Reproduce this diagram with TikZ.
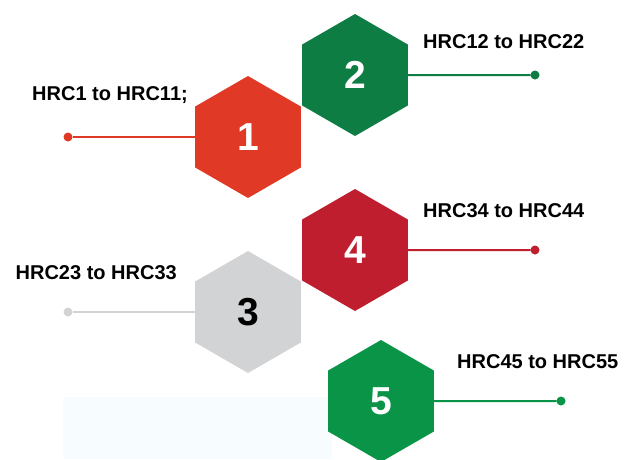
\documentclass[tikz,border=0pt]{standalone}
\usepackage{fontspec}
\setmainfont{Liberation Sans}
\usepackage{tikz}
\usetikzlibrary{shapes.geometric}

\definecolor{hexorange}{HTML}{E03A26}
\definecolor{hexdarkgreen}{HTML}{0E7D43}
\definecolor{hexgrey}{HTML}{D1D3D4}
\definecolor{hexcrimson}{HTML}{BE1E2D}
\definecolor{hexgreen}{HTML}{0A9447}
\definecolor{paleblue}{HTML}{F7FDFF}

\begin{document}
\begin{tikzpicture}[x=1pt,y=-1pt,node distance=180pt,
    hex node/.style={regular polygon,regular polygon sides=6,shape border rotate=30,
      minimum size=122pt,inner sep=0pt,outer sep=0pt,text=white,
      font=\bfseries\fontsize{39}{39}\selectfont},
    dot node/.style={circle,minimum size=9pt,inner sep=0pt,outer sep=0pt},
    label node/.style={inner sep=0pt,font=\bfseries\fontsize{20}{20}\selectfont},
    link/.style={line width=2pt}]

  \useasboundingbox (0,0) rectangle (627,459);
  \fill[paleblue] (63,397) rectangle (332,459);

  \node[hex node,fill=hexorange] (h1) at (248,137) {1};
  \node[hex node,fill=hexdarkgreen] (h2) at (355,75) {2};
  \node[hex node,fill=hexgrey,text=black] (h3) at (248,312) {3};
  \node[hex node,fill=hexcrimson] (h4) at (355,250) {4};
  \node[hex node,fill=hexgreen] (h5) at (381,401) {5};

  \node[dot node,fill=hexorange] (d1) [left of=h1] {};
  \node[dot node,fill=hexdarkgreen] (d2) [right of=h2] {};
  \node[dot node,fill=hexgrey] (d3) [left of=h3] {};
  \node[dot node,fill=hexcrimson] (d4) [right of=h4] {};
  \node[dot node,fill=hexgreen] (d5) [right of=h5] {};

  \draw[link,hexorange] (d1) -- (h1);
  \draw[link,hexdarkgreen] (h2) -- (d2);
  \draw[link,hexgrey] (d3) -- (h3);
  \draw[link,hexcrimson] (h4) -- (d4);
  \draw[link,hexgreen] (h5) -- (d5);

  \node[label node,anchor=base east] (t1) at (188,100) {HRC1 to HRC11;};
  \node[label node,anchor=base west] (t2) at (423,48) {HRC12 to HRC22};
  \node[label node,anchor=base east] (t3) at (177,279) {HRC23 to HRC33};
  \node[label node,anchor=base west] (t4) at (423,217) {HRC34 to HRC44};
  \node[label node,anchor=base west] (t5) at (457,368) {HRC45 to HRC55};
\end{tikzpicture}
\end{document}
